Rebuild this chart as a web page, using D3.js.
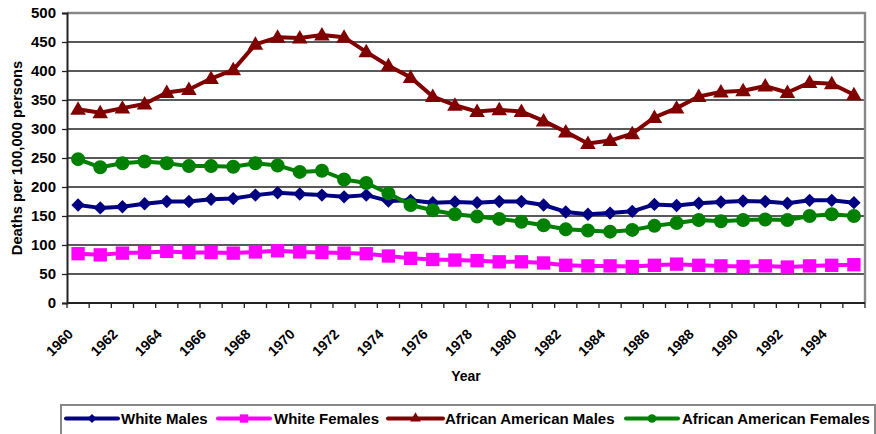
<!DOCTYPE html>
<html>
<head>
<meta charset="utf-8">
<script src="https://cdn.jsdelivr.net/npm/d3@7/dist/d3.min.js"></script>
<style>
  html, body { margin: 0; padding: 0; background: #fff; }
  svg { display: block; font-family: "Liberation Sans", Arial, sans-serif; font-weight: bold; }
</style>
</head>
<body>
<svg id="chart" width="876" height="434"></svg>
<script>
const years = d3.range(1960, 1996);
const yTicks = [0, 50, 100, 150, 200, 250, 300, 350, 400, 450, 500];
const xTickLabels = d3.range(1960, 1995, 2);

const whiteMales = [169, 164, 166, 171, 175, 175, 179, 180, 186, 190, 188, 186, 183, 186, 176, 177, 173, 174, 173, 175, 175, 169, 157, 153, 155, 158, 170, 168, 172, 174, 176, 175, 172, 177, 177, 173];
const whiteFemales = [85, 83, 86, 87, 89, 87, 87, 86, 88, 90, 88, 87, 86, 85, 81, 77, 75, 74, 73, 71, 71, 69, 65, 64, 64, 63, 65, 67, 65, 64, 63, 64, 62, 64, 65, 66];
const aaMales = [334, 328, 336, 343, 363, 368, 387, 402, 446, 458, 457, 462, 458, 433, 409, 389, 356, 341, 330, 333, 330, 314, 295, 275, 280, 292, 320, 336, 356, 364, 366, 374, 363, 380, 378, 359];
const aaFemales = [248, 234, 241, 244, 241, 236, 236, 235, 241, 237, 226, 228, 213, 207, 189, 169, 160, 153, 149, 145, 140, 134, 127, 125, 123, 126, 133, 138, 143, 141, 143, 144, 143, 150, 153, 150];

const seriesNames = ["White Males", "White Females", "African American Males", "African American Females"];
const seriesValues = [whiteMales, whiteFemales, aaMales, aaFemales];
const seriesColors = ["#000080", "#FF00FF", "#800000", "#008000"];

// Excel-like diamond (equal width/height) as a d3 symbol type
const symbolRhombus = {
  draw(context, size) {
    const r = Math.sqrt(size / 2);
    context.moveTo(0, -r); context.lineTo(r, 0); context.lineTo(0, r); context.lineTo(-r, 0); context.closePath();
  }
};
const seriesSymbols = [symbolRhombus, d3.symbolSquare, d3.symbolTriangle, d3.symbolCircle];
const symbolSizes = [90, 178, 105, 154];
const legendSymbolSizes = [40, 70, 50, 60];

const svg = d3.select("#chart");
const L = 67, R = 865, T = 13, B = 303;

const x = d3.scaleBand().domain(years).range([L, R]);
const y = d3.scaleLinear().domain([0, 500]).range([B, T]);

// gridlines
svg.append("g").selectAll("line").data(yTicks.filter(d => d > 0 && d < 500)).join("line")
  .attr("x1", L).attr("x2", R).attr("y1", d => y(d)).attr("y2", d => y(d))
  .attr("stroke", "#222").attr("stroke-width", 1.3);

// plot border (top/right)
svg.append("path")
  .attr("d", `M${L},${y(500)}H${R}V${B}`)
  .attr("fill", "none").attr("stroke", "#888").attr("stroke-width", 2.4);

// y axis
const yAxis = svg.append("g").attr("transform", `translate(${L},0)`)
  .call(d3.axisLeft(y).tickValues(yTicks).tickSize(5).tickPadding(6));
yAxis.select(".domain").attr("stroke", "#222").attr("stroke-width", 2);
yAxis.selectAll(".tick line").attr("stroke", "#222").attr("stroke-width", 1.3);
yAxis.selectAll("text").attr("font-size", 15).attr("font-weight", "bold").attr("fill", "#000")
  .attr("font-family", '"Liberation Sans", Arial, sans-serif');

// x axis: ticks at category boundaries
const xAxisG = svg.append("g");
xAxisG.append("line").attr("x1", L).attr("x2", R).attr("y1", B).attr("y2", B)
  .attr("stroke", "#222").attr("stroke-width", 2);
xAxisG.selectAll("line.tk").data(years.concat([1996])).join("line").attr("class", "tk")
  .attr("x1", d => d === 1996 ? R : x(d)).attr("x2", d => d === 1996 ? R : x(d))
  .attr("y1", B).attr("y2", B + 5)
  .attr("stroke", "#222").attr("stroke-width", 1.3);
xAxisG.selectAll("text").data(xTickLabels).join("text")
  .attr("transform", d => `translate(${x(d) + x.bandwidth() / 2 - 4},${B + 32}) rotate(-45)`)
  .attr("text-anchor", "end")
  .attr("font-size", 14).attr("fill", "#000")
  .text(d => d);

// axis titles
svg.append("text").attr("x", (L + R) / 2).attr("y", 381).attr("text-anchor", "middle")
  .attr("font-size", 14).text("Year");
svg.append("text").attr("transform", `translate(22,${(T + B) / 2}) rotate(-90)`)
  .attr("text-anchor", "middle").attr("font-size", 14.7).text("Deaths per 100,000 persons");

// series
const cx = d => x(d) + x.bandwidth() / 2;
const line = d3.line().x((v, i) => cx(years[i])).y(v => y(v));
seriesValues.forEach((vals, s) => {
  const g = svg.append("g");
  g.append("path").datum(vals).attr("d", line)
    .attr("fill", "none").attr("stroke", seriesColors[s]).attr("stroke-width", 4)
    .attr("stroke-linejoin", "round");
  const sym = d3.symbol().type(seriesSymbols[s]).size(symbolSizes[s]);
  g.selectAll("path.m").data(vals).join("path").attr("class", "m")
    .attr("d", sym)
    .attr("transform", (v, i) => `translate(${cx(years[i])},${y(v) + (s === 2 ? 1 : 0)})`)
    .attr("fill", seriesColors[s]);
});

// legend
const legend = svg.append("g");
legend.append("rect").attr("x", 61).attr("y", 405).attr("width", 814).attr("height", 40)
  .attr("fill", "#fff").attr("stroke", "#888").attr("stroke-width", 2);
const legendPos = [[66, 118, 121], [218, 270, 274], [388, 443, 445], [626, 678, 682]];
seriesNames.forEach((name, s) => {
  const [x1, x2, tx] = legendPos[s];
  const ly = 418.5;
  legend.append("line").attr("x1", x1).attr("x2", x2).attr("y1", ly).attr("y2", ly)
    .attr("stroke", seriesColors[s]).attr("stroke-width", 4).attr("stroke-linecap", "round");
  legend.append("path").attr("d", d3.symbol().type(seriesSymbols[s]).size(legendSymbolSizes[s]))
    .attr("transform", `translate(${(x1 + x2) / 2},${ly})`).attr("fill", seriesColors[s]);
  legend.append("text").attr("x", tx).attr("y", 424).attr("font-size", 15).attr("fill", "#000").text(name);
});
</script>
</body>
</html>
